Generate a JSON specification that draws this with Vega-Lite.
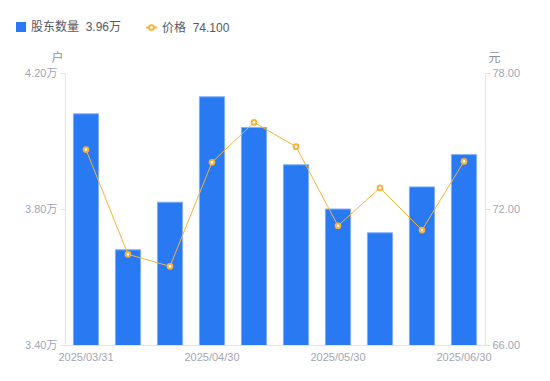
{
  "$schema": "https://vega.github.io/schema/vega-lite/v6.json",
  "width": 420,
  "height": 272,
  "autosize": "none",
  "padding": {"left": 65, "top": 73, "right": 65, "bottom": 36},
  "background": "white",
  "config": {
    "view": {"stroke": null},
    "font": "Liberation Sans, Noto Sans CJK SC, sans-serif",
    "axis": {"labelFont": "Liberation Sans, Noto Sans CJK SC, sans-serif", "titleFont": "Noto Sans CJK SC", "grid": false},
    "legend": {"labelFont": "Liberation Sans, Noto Sans CJK SC, sans-serif"}
  },
  "data": {
    "values": [
      {"date": "2025/03/31", "holders": 4.08, "price": 74.62},
      {"date": "2025/04/10", "holders": 3.68, "price": 70.00},
      {"date": "2025/04/18", "holders": 3.82, "price": 69.47},
      {"date": "2025/04/30", "holders": 4.13, "price": 74.06},
      {"date": "2025/05/09", "holders": 4.04, "price": 75.82},
      {"date": "2025/05/20", "holders": 3.93, "price": 74.75},
      {"date": "2025/05/30", "holders": 3.80, "price": 71.26},
      {"date": "2025/06/10", "holders": 3.73, "price": 72.93},
      {"date": "2025/06/20", "holders": 3.865, "price": 71.07},
      {"date": "2025/06/30", "holders": 3.96, "price": 74.10}
    ]
  },
  "encoding": {
    "x": {
      "field": "date",
      "type": "ordinal",
      "sort": null,
      "scale": {"paddingInner": 0.4, "paddingOuter": 0.2},
      "axis": {
        "title": null,
        "values": ["2025/03/31", "2025/04/30", "2025/05/30", "2025/06/30"],
        "labelAngle": 0,
        "ticks": false,
        "labelPadding": 6,
        "labelFontSize": 11,
        "labelColor": "#a3a6b4",
        "domainColor": "#e3e3e8",
        "labelFlush": false
      }
    }
  },
  "layer": [
    {
      "mark": {"type": "bar", "stroke": "#7fb0f7", "strokeWidth": 1, "clip": true},
      "encoding": {
        "y": {
          "field": "holders",
          "type": "quantitative",
          "scale": {"domain": [3.4, 4.2], "zero": false, "nice": false},
          "axis": {
            "title": "户",
            "titleAngle": 0,
            "titleX": -8,
            "titleY": -16,
            "titleAlign": "center",
            "titleBaseline": "middle",
            "titleFontSize": 12,
            "titleFontWeight": "normal",
            "titleColor": "#8c8f9c",
            "values": [3.4, 3.8, 4.2],
            "labelExpr": "format(datum.value, '.2f') + '万'",
            "labelFontSize": 11,
            "labelColor": "#a3a6b4",
            "tickSize": 5,
            "tickColor": "#e3e3e8",
            "domainColor": "#e3e3e8",
            "labelPadding": 3
          }
        },
        "fill": {
          "datum": "股东数量",
          "scale": {"range": ["#2979f2"]},
          "legend": {
            "title": null,
            "orient": "none",
            "legendX": -50,
            "legendY": -52,
            "padding": 0,
            "symbolType": "square",
            "symbolSize": 100,
            "symbolStrokeWidth": 0,
            "labelFontSize": 12,
            "labelColor": "#555866",
            "labelExpr": "datum.label + '\u00a0\u00a03.96万'"
          }
        }
      }
    },
    {
      "encoding": {
        "y": {
          "field": "price",
          "type": "quantitative",
          "scale": {"domain": [66, 78], "zero": false, "nice": false},
          "axis": {
            "orient": "right",
            "title": "元",
            "titleAngle": 0,
            "titleX": 9,
            "titleY": -16,
            "titleAlign": "center",
            "titleBaseline": "middle",
            "titleFontSize": 12,
            "titleFontWeight": "normal",
            "titleColor": "#8c8f9c",
            "values": [66, 72, 78],
            "labelExpr": "format(datum.value, '.2f')",
            "labelFontSize": 11,
            "labelColor": "#a3a6b4",
            "tickSize": 5,
            "tickColor": "#e3e3e8",
            "domainColor": "#e3e3e8",
            "labelPadding": 2
          }
        }
      },
      "layer": [
        {
          "mark": {"type": "line", "strokeWidth": 1},
          "encoding": {
            "stroke": {
              "datum": "价格",
              "scale": {"range": ["#f7b23b"]},
              "legend": {
                "title": null,
                "orient": "none",
                "legendX": 80,
                "legendY": -52,
                "padding": 0,
                "symbolType": "M-1,0L-0.45,0M0.45,0L1,0M-0.45,0A0.45,0.45,0,1,0,0.45,0A0.45,0.45,0,1,0,-0.45,0",
                "symbolSize": 120,
                "symbolStrokeWidth": 1.8,
                "symbolFillColor": "white",
                "labelFontSize": 12,
                "labelColor": "#555866",
                "labelExpr": "datum.label + '\u00a0\u00a074.100'"
              }
            }
          }
        },
        {
          "mark": {"type": "point", "shape": "circle", "filled": true, "fill": "white", "stroke": "#f7b23b", "strokeWidth": 2, "size": 22, "opacity": 1},
          "encoding": {}
        }
      ]
    }
  ],
  "resolve": {"scale": {"y": "independent"}}
}
